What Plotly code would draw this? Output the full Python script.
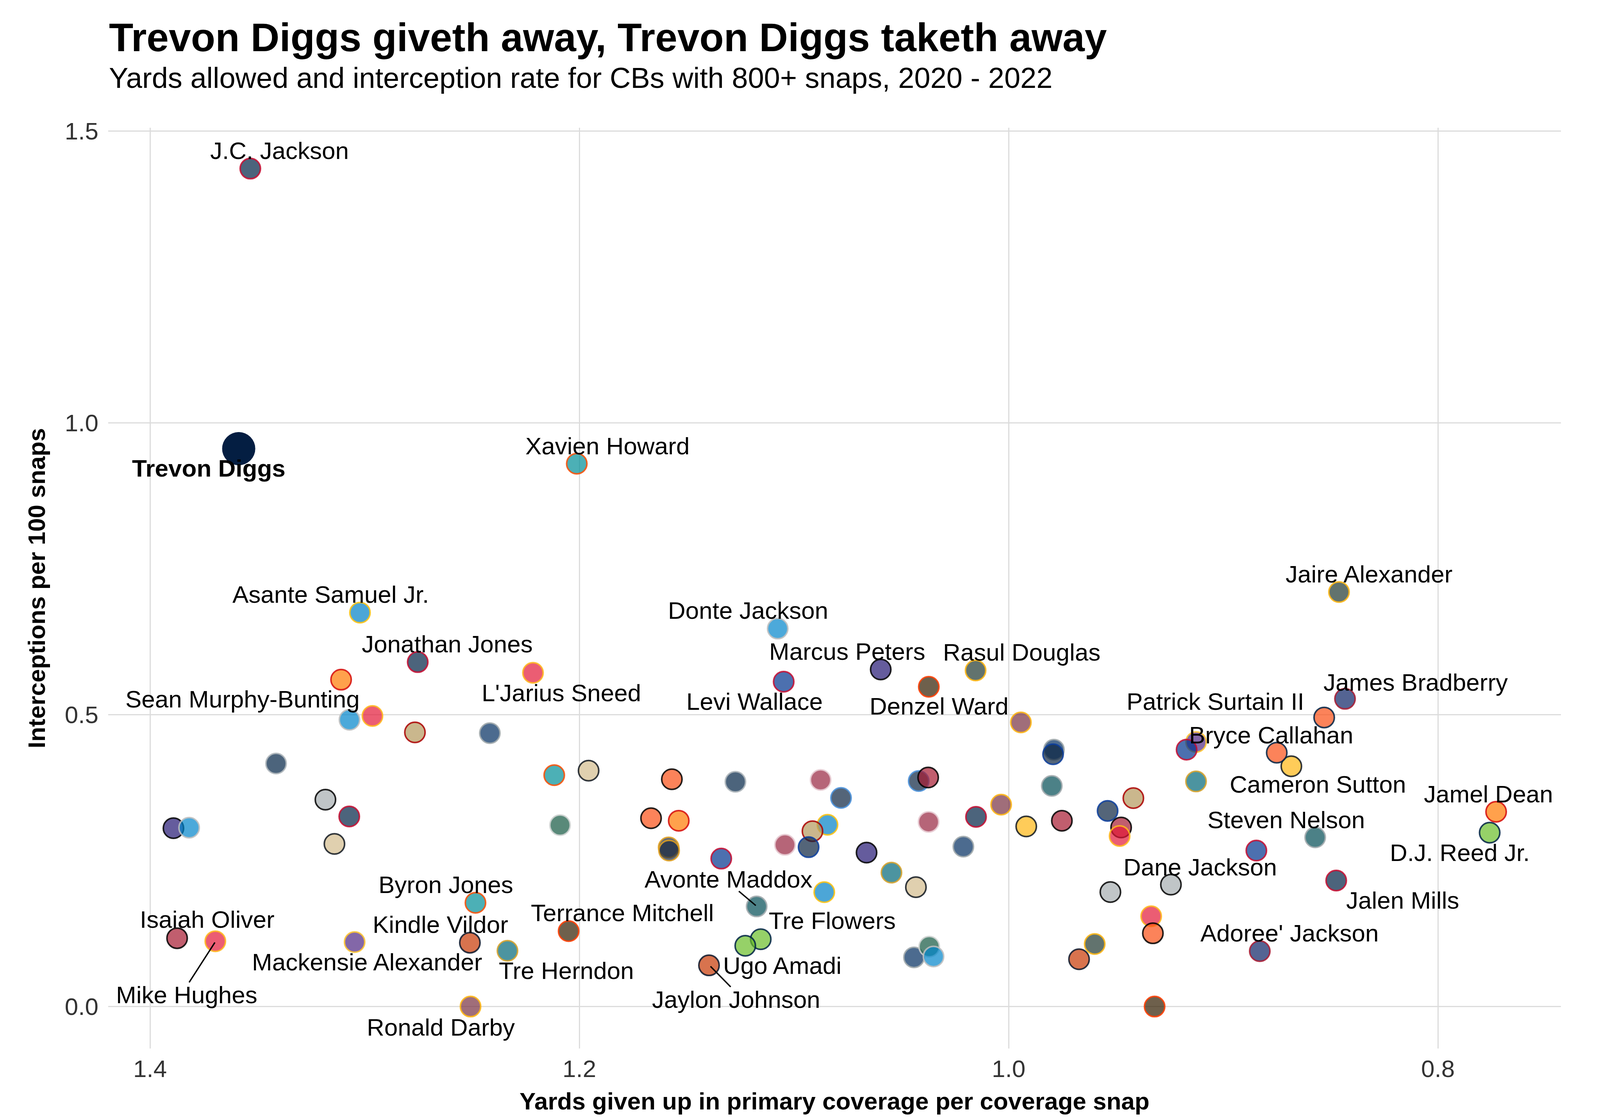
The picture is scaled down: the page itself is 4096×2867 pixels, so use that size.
import plotly.graph_objects as go

# ---------------- data ----------------
players = ["J.C. Jackson", "Xavien Howard", "Asante Samuel Jr.", "Jonathan Jones", "Sean Murphy-Bunting",
           "L'Jarius Sneed", "", "", "", "", "", "", "", "", "", "", "", "", "",
           "Byron Jones", "Isaiah Oliver", "Mike Hughes", "Mackensie Alexander", "Kindle Vildor", "Tre Herndon",
           "Terrance Mitchell", "Ronald Darby", "", "", "", "", "", "", "", "", "", "", "", "", "", "", "", "",
           "", "", "", "", "", "", "", "", "", "Avonte Maddox", "Tre Flowers", "Ugo Amadi", "Jaylon Johnson",
           "", "", "", "", "Cameron Sutton", "", "", "", "", "", "Dane Jackson", "Steven Nelson", "", "",
           "Jalen Mills", "", "", "", "Adoree' Jackson", "", "Jamel Dean", "D.J. Reed Jr.", "Jaire Alexander",
           "James Bradberry", "Patrick Surtain II", "", "", "Bryce Callahan", "", "", "", "Donte Jackson",
           "Levi Wallace", "Marcus Peters", "Denzel Ward", "Rasul Douglas"]
teams = ["NE", "MIA", "LAC", "NE", "TB",
         "KC", "CAR", "KC", "SF", "IND", "DAL", "LV", "NE", "BAL", "CAR", "NO", "MIA", "NO", "NYJ",
         "MIA", "ATL", "KC", "MIN", "CHI", "JAX",
         "CLE", "WAS", "CIN", "DAL", "ARI", "TEN", "TEN", "ATL", "PHI", "WAS", "NE", "PIT", "ATL", "CIN",
         "TB", "DRK", "DRK", "BUF", "ARI", "LAC", "SF", "BLU", "BAL", "ARI", "IND", "JAX", "NO", "LAC",
         "PHI", "SEA", "SEA", "CHI",
         "IND", "NYJ", "CAR", "CHI", "PIT", "JAX", "SF", "BLU", "ATL", "KC", "BUF", "PHI", "LV", "LV",
         "NE", "KC", "CIN", "GB", "NYG", "CLE", "TB", "SEA", "GB",
         "NYG", "DEN", "MIN", "BUF", "DEN", "WAS", "IND", "BLU", "CAR",
         "BUF", "BAL", "CLE", "GB"]
yds_per_snap = [1.3533, 1.2012, 1.3022, 1.2753, 1.3110,
                1.2216, 1.3071, 1.2964, 1.2766, 1.2417, 1.3413, 1.3183, 1.3072, 1.3891, 1.3818, 1.3141, 1.2117, 1.1957, 1.2090,
                1.2484, 1.3874, 1.3696, 1.3047, 1.2510, 1.2335,
                1.2050, 1.2507, 1.1569, 1.1273, 1.0876, 1.0781, 1.0419, 1.0375, 0.9799, 1.0035, 1.0152, 0.9918, 0.9752, 1.1666,
                1.1537, 1.1584, 1.1582, 1.1339, 1.1042, 1.0844, 1.0914, 1.0932, 1.0662, 1.0373, 1.0211, 1.0546, 1.0432, 1.0859,
                1.1174, 1.1155, 1.1227, 1.1396,
                1.0441, 1.0370, 1.0350, 0.9672, 0.8683, 0.9127, 0.9419, 0.9539, 0.9476, 0.9483, 0.8846, 0.8572, 0.9244, 0.9526,
                0.8474, 0.9336, 0.9328, 0.9599, 0.8830, 0.9320, 0.7729, 0.7759, 0.8461,
                0.8433, 0.8530, 0.9127, 0.9171, 0.8751, 0.9943, 0.9789, 0.9793, 1.1076,
                1.1048, 1.0596, 1.0372, 1.0154]
int_per_100 = [1.4358, 0.9301, 0.6750, 0.5902, 0.5601,
               0.5719, 0.4914, 0.4979, 0.4698, 0.4684, 0.4164, 0.3545, 0.3257, 0.3056, 0.3065, 0.2787, 0.3965, 0.4042, 0.3108,
               0.1778, 0.1171, 0.1119, 0.1105, 0.1094, 0.0956,
               0.1292, 0.0, 0.3895, 0.3851, 0.3883, 0.3575, 0.3864, 0.3925, 0.3781, 0.3460, 0.3250, 0.3086, 0.3184, 0.3227,
               0.3184, 0.2726, 0.2673, 0.2535, 0.2771, 0.3115, 0.3005, 0.2731, 0.2638, 0.3164, 0.2740, 0.2295, 0.2045, 0.1960,
               0.1715, 0.1154, 0.1042, 0.0706,
               0.0843, 0.1026, 0.0858, 0.0811, 0.4117, 0.3857, 0.3572, 0.3353, 0.3068, 0.2923, 0.2673, 0.2899, 0.2089, 0.1962,
               0.2159, 0.1547, 0.1255, 0.1072, 0.0949, 0.0, 0.3337, 0.2979, 0.7103,
               0.5273, 0.4953, 0.4533, 0.4402, 0.4350, 0.4869, 0.4402, 0.4323, 0.6476,
               0.5566, 0.5776, 0.5479, 0.5759]

# highlighted player
diggs_name = "Trevon Diggs"
diggs_x = [1.3587]
diggs_y = [0.9559]

# team colours: (fill, outline)
team_fill = {"NE": "#002244", "DAL": "#002244", "MIA": "#008E97", "LAC": "#0080C6", "TB": "#FF7900",
             "KC": "#E31837", "CAR": "#0085CA", "SF": "#B3995D", "IND": "#002C5F", "LV": "#A5ACAF",
             "BAL": "#241773", "NO": "#D3BC8D", "NYJ": "#125740", "ATL": "#A71930", "MIN": "#4F2683",
             "CHI": "#C83803", "JAX": "#006778", "WAS": "#773141", "CLE": "#311D00", "CIN": "#FB4F14",
             "ARI": "#97233F", "TEN": "#0C2340", "BLU": "#0C2340", "BUF": "#00338D", "PHI": "#004C54",
             "SEA": "#69BE28", "GB": "#203731", "PIT": "#FFB612", "DEN": "#FB4F14", "NYG": "#0B2265",
             "DRK": "#1D2A3F"}
team_line = {"NE": "#C60C30", "DAL": "#B0B7BC", "MIA": "#FC4C02", "LAC": "#FFC20E", "TB": "#D50A0A",
             "KC": "#FFB81C", "CAR": "#BFC0BF", "SF": "#AA0000", "IND": "#A2AAAD", "LV": "#000000",
             "BAL": "#000000", "NO": "#101820", "NYJ": "#D0D4D2", "ATL": "#000000", "MIN": "#FFC62F",
             "CHI": "#0B162A", "JAX": "#D7A22A", "WAS": "#FFB612", "CLE": "#FF3C00", "CIN": "#000000",
             "ARI": "#E8CDD3", "TEN": "#4B92DB", "BLU": "#0A3D9C", "BUF": "#C60C30", "PHI": "#A5ACAF",
             "SEA": "#002244", "GB": "#FFB612", "PIT": "#101820", "DEN": "#002244", "NYG": "#A71930",
             "DRK": "#E0A020"}

# label placements (data coordinates, repelled like ggrepel)
label_names = ["J.C. Jackson", "Xavien Howard", "Asante Samuel Jr.", "Jonathan Jones", "Sean Murphy-Bunting",
               "L'Jarius Sneed", "Donte Jackson", "Marcus Peters", "Rasul Douglas", "Levi Wallace", "Denzel Ward",
               "Jaire Alexander", "James Bradberry", "Patrick Surtain II", "Bryce Callahan", "Cameron Sutton",
               "Jamel Dean", "Steven Nelson", "D.J. Reed Jr.", "Dane Jackson", "Jalen Mills", "Adoree' Jackson",
               "Avonte Maddox", "Tre Flowers", "Ugo Amadi", "Jaylon Johnson", "Terrance Mitchell", "Tre Herndon",
               "Byron Jones", "Isaiah Oliver", "Kindle Vildor", "Mackensie Alexander", "Mike Hughes", "Ronald Darby"]
label_x = [1.3397, 1.1870, 1.3158, 1.2616, 1.3569,
           1.2084, 1.1215, 1.0752, 0.9940, 1.1184, 1.0324,
           0.8322, 0.8104, 0.9036, 0.8778, 0.8559,
           0.7764, 0.8707, 0.7899, 0.9108, 0.8165, 0.8691,
           1.1306, 1.0822, 1.1054, 1.1269, 1.1799, 1.2060,
           1.2622, 1.3734, 1.2648, 1.2990, 1.3829, 1.2645]
label_y = [1.4664, 0.9605, 0.7063, 0.6210, 0.5267,
           0.5374, 0.6788, 0.6086, 0.6073, 0.5229, 0.5150,
           0.7413, 0.5556, 0.5227, 0.4650, 0.3811,
           0.3643, 0.3199, 0.2638, 0.2393, 0.1822, 0.1257,
           0.2180, 0.1470, 0.0706, 0.0124, 0.1607, 0.0614,
           0.2091, 0.1493, 0.1409, 0.0764, 0.0199, -0.0351]
diggs_label_x = 1.3727
diggs_label_y = 0.9222

# connector segments (point -> label) for labels far from their point
seg_names = ["Mike Hughes", "Avonte Maddox", "Jaylon Johnson"]
seg_x0 = [1.3698, 1.1257, 1.1389]
seg_y0 = [0.1098, 0.1976, 0.0689]
seg_x1 = [1.3818, 1.1178, 1.1295]
seg_y1 = [0.0414, 0.1731, 0.0337]

title = "Trevon Diggs giveth away, Trevon Diggs taketh away"
subtitle = "Yards allowed and interception rate for CBs with 800+ snaps, 2020 - 2022"
x_title = "Yards given up in primary coverage per coverage snap"
y_title = "Interceptions per 100 snaps"
x_ticks = [1.4, 1.2, 1.0, 0.8]
y_ticks = [0.0, 0.5, 1.0, 1.5]

# ---------------- figure ----------------
FONT = "Liberation Sans, Arial, Helvetica, sans-serif"


def rgba(hexc, a):
    h = hexc.lstrip("#")
    return "rgba(%d,%d,%d,%.2f)" % (int(h[0:2], 16), int(h[2:4], 16), int(h[4:6], 16), a)


fig = go.Figure()
fig.add_trace(go.Scatter(
    x=yds_per_snap, y=int_per_100, mode="markers",
    text=[p if p else t for p, t in zip(players, teams)], hoverinfo="text",
    marker=dict(size=52,
                color=[rgba(team_fill[t], 0.7) for t in teams],
                line=dict(color=[rgba(team_line[t], 0.85) for t in teams], width=4)),
    showlegend=False))
fig.add_trace(go.Scatter(
    x=diggs_x, y=diggs_y, mode="markers", text=[diggs_name], hoverinfo="text",
    marker=dict(size=84, color="#041E42", line=dict(color="#041E42", width=1)),
    showlegend=False))

for x0, y0, x1, y1 in zip(seg_x0, seg_y0, seg_x1, seg_y1):
    fig.add_shape(type="line", xref="x", yref="y", x0=x0, y0=y0, x1=x1, y1=y1,
                  line=dict(color="black", width=3.5))

for name, lx, ly in zip(label_names, label_x, label_y):
    fig.add_annotation(x=lx, y=ly, xref="x", yref="y", text=name, showarrow=False,
                       xanchor="center", yanchor="middle",
                       font=dict(family=FONT, size=62, color="black"))
fig.add_annotation(x=diggs_label_x, y=diggs_label_y, xref="x", yref="y", text="<b>" + diggs_name + "</b>",
                   showarrow=False, xanchor="center", yanchor="middle",
                   font=dict(family=FONT, size=62, color="black"))

# titles
fig.add_annotation(x=0, y=1.098, xref="paper", yref="paper", text="<b>" + title + "</b>", showarrow=False,
                   xanchor="left", yanchor="middle", font=dict(family=FONT, size=102, color="black"))
fig.add_annotation(x=0, y=1.054, xref="paper", yref="paper", text=subtitle, showarrow=False,
                   xanchor="left", yanchor="middle", font=dict(family=FONT, size=74, color="black"))
fig.add_annotation(x=0.5, y=-0.0572, xref="paper", yref="paper", text="<b>" + x_title + "</b>", showarrow=False,
                   xanchor="center", yanchor="middle", font=dict(family=FONT, size=62, color="black"))
fig.add_annotation(x=-0.0494, y=0.5, xref="paper", yref="paper", text="<b>" + y_title + "</b>", showarrow=False,
                   textangle=-90, xanchor="center", yanchor="middle",
                   font=dict(family=FONT, size=62, color="black"))

# the page body has an 8px default margin, so the figure is 8px smaller and margins compensate
fig.update_layout(
    width=4088, height=2859,
    margin=dict(l=269, r=100, t=319, b=183, autoexpand=False),
    paper_bgcolor="white", plot_bgcolor="white",
    font=dict(family=FONT, size=62, color="#333333"),
    xaxis=dict(range=[1.4195, 0.7427], tickvals=x_ticks, tickformat=".1f",
               showgrid=True, gridcolor="#DCDCDC", gridwidth=2.7, zeroline=False,
               showline=False, ticks="", ticklabelstandoff=10,
               tickfont=dict(family=FONT, size=62, color="#333333")),
    yaxis=dict(range=[-0.0719, 1.5058], tickvals=y_ticks, tickformat=".1f",
               showgrid=True, gridcolor="#DCDCDC", gridwidth=2.7, zeroline=False,
               showline=False, ticks="", ticklabelstandoff=24,
               tickfont=dict(family=FONT, size=62, color="#333333")),
)

fig.write_html("out.html")
